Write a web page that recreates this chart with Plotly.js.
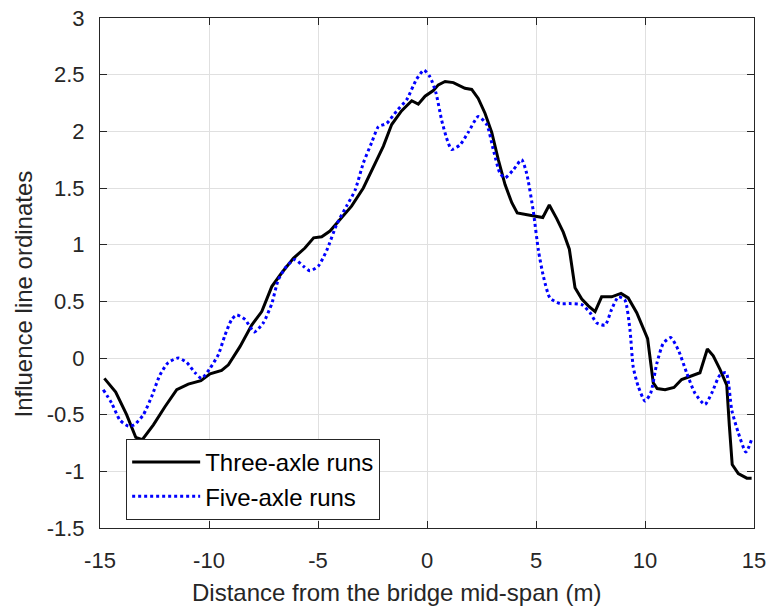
<!DOCTYPE html>
<html>
<head>
<meta charset="utf-8">
<script src="https://cdn.plot.ly/plotly-3.0.1.min.js"></script>
<style>html,body{margin:0;padding:0;background:#fff;}#chart{width:767px;height:606px;}</style>
</head>
<body>
<div id="chart"></div>
<script>
// Three-axle runs (black solid)
var threeX = [-14.80, -14.28, -13.78, -13.36, -13.06, -12.55, -12.02, -11.48, -10.95, -10.37, -9.95, -9.42, -9.11, -8.58, -8.04, -7.58, -7.12, -6.67, -6.13, -5.60, -5.20, -4.83, -4.45, -3.99, -3.46, -2.92, -2.46, -2.00, -1.62, -1.17, -0.70, -0.40, -0.09, 0.29, 0.52, 0.83, 1.21, 1.74, 2.05, 2.35, 2.66, 2.97, 3.27, 3.58, 3.89, 4.14, 4.72, 5.31, 5.61, 5.95, 6.25, 6.53, 6.79, 7.10, 7.40, 7.71, 8.01, 8.47, 8.90, 9.23, 9.62, 9.89, 10.12, 10.38, 10.56, 10.92, 11.33, 11.68, 12.14, 12.52, 12.86, 13.13, 13.44, 13.75, 13.87, 14.00, 14.28, 14.67, 14.89];
var threeY = [-0.18, -0.30, -0.50, -0.70, -0.72, -0.59, -0.43, -0.28, -0.23, -0.20, -0.14, -0.11, -0.06, 0.10, 0.29, 0.41, 0.63, 0.75, 0.88, 0.97, 1.06, 1.07, 1.12, 1.22, 1.34, 1.50, 1.68, 1.87, 2.06, 2.18, 2.27, 2.24, 2.31, 2.36, 2.41, 2.44, 2.43, 2.38, 2.37, 2.29, 2.16, 1.99, 1.75, 1.53, 1.37, 1.28, 1.26, 1.24, 1.35, 1.23, 1.11, 0.96, 0.62, 0.52, 0.46, 0.41, 0.54, 0.54, 0.57, 0.53, 0.40, 0.28, 0.17, -0.22, -0.27, -0.28, -0.26, -0.19, -0.16, -0.13, 0.08, 0.02, -0.10, -0.24, -0.60, -0.94, -1.02, -1.06, -1.06];

// Five-axle runs (blue dotted)
var fiveX = [-14.85, -14.46, -14.08, -13.70, -13.43, -13.01, -12.63, -12.25, -11.87, -11.41, -11.02, -10.64, -10.34, -9.95, -9.57, -9.27, -8.96, -8.73, -8.35, -7.92, -7.51, -7.12, -6.82, -6.44, -6.06, -5.67, -5.37, -4.99, -4.60, -4.14, -3.69, -3.30, -2.92, -2.54, -2.23, -1.85, -1.39, -0.93, -0.48, -0.14, 0.14, 0.41, 0.67, 0.90, 1.13, 1.51, 1.89, 2.35, 2.74, 3.04, 3.35, 3.58, 3.96, 4.34, 4.57, 4.88, 5.11, 5.34, 5.64, 6.10, 6.56, 7.10, 7.48, 7.78, 8.17, 8.47, 8.78, 9.08, 9.31, 9.46, 9.69, 10.00, 10.26, 10.54, 10.84, 11.18, 11.53, 11.91, 12.29, 12.75, 13.06, 13.44, 13.72, 13.98, 14.28, 14.63, 14.89];
var fiveY = [-0.28, -0.40, -0.55, -0.60, -0.59, -0.50, -0.34, -0.15, -0.04, 0.00, -0.04, -0.13, -0.18, -0.09, 0.03, 0.20, 0.34, 0.38, 0.34, 0.23, 0.31, 0.48, 0.69, 0.81, 0.87, 0.81, 0.77, 0.81, 0.95, 1.18, 1.34, 1.48, 1.72, 1.90, 2.04, 2.07, 2.18, 2.28, 2.46, 2.54, 2.48, 2.34, 2.10, 1.94, 1.84, 1.88, 1.99, 2.13, 2.06, 1.84, 1.63, 1.59, 1.66, 1.75, 1.63, 1.29, 0.95, 0.72, 0.53, 0.48, 0.48, 0.47, 0.40, 0.31, 0.29, 0.43, 0.54, 0.51, 0.25, -0.08, -0.25, -0.38, -0.31, -0.05, 0.13, 0.18, 0.07, -0.13, -0.31, -0.41, -0.31, -0.15, -0.13, -0.46, -0.66, -0.83, -0.72];

var xTickVals = [-15, -10, -5, 0, 5, 10, 15];
var xTickText = ['-15', '-10', '-5', '0', '5', '10', '15'];
var yTickVals = [-1.5, -1, -0.5, 0, 0.5, 1, 1.5, 2, 2.5, 3];
var yTickText = ['-1.5', '-1', '-0.5', '0', '0.5', '1', '1.5', '2', '2.5', '3'];

var seriesNames = ['Three-axle runs', 'Five-axle runs'];
var xTitle = 'Distance from the bridge mid-span (m)';
var yTitle = 'Influence line ordinates';

var FONT = '"Liberation Sans", Arial, Helvetica, sans-serif';
var TXT = '#262626';

var traces = [
  {x: threeX, y: threeY, type: 'scatter', mode: 'lines', name: seriesNames[0],
   line: {color: '#000000', width: 3}},
  {x: fiveX, y: fiveY, type: 'scatter', mode: 'lines', name: seriesNames[1],
   line: {color: '#0000ff', width: 3, dash: 'dot', shape: 'spline', smoothing: 0.6}}
];

var axisCommon = {
  showline: true, linecolor: TXT, linewidth: 1, mirror: 'ticks',
  ticks: 'inside', ticklen: 7, tickwidth: 1, tickcolor: TXT,
  showgrid: true, gridcolor: '#e0e0e0', gridwidth: 1,
  zeroline: false, tickmode: 'array',
  tickfont: {family: FONT, size: 22, color: TXT}
};

var layout = {
  width: 767, height: 606,
  margin: {l: 100, r: 13, t: 18, b: 78},
  paper_bgcolor: '#ffffff', plot_bgcolor: '#ffffff',
  showlegend: true,
  xaxis: Object.assign({}, axisCommon, {range: [-15, 15], tickvals: xTickVals, ticktext: xTickText, ticklabelstandoff: 13}),
  yaxis: Object.assign({}, axisCommon, {range: [-1.5, 3], tickvals: yTickVals, ticktext: yTickText, ticklabelstandoff: 10}),
  legend: {
    x: 0.04, y: 0.016, xanchor: 'left', yanchor: 'bottom',
    bgcolor: '#ffffff', bordercolor: TXT, borderwidth: 1,
    font: {family: FONT, size: 24, color: '#000000'},
    itemwidth: 68, tracegroupgap: 0,
    entrywidth: 292, entrywidthmode: 'pixels'
  },
  annotations: [
    {text: xTitle, xref: 'x', x: -1.38, yref: 'paper', y: 0, yshift: -49,
     xanchor: 'center', yanchor: 'top', showarrow: false,
     font: {family: FONT, size: 24, color: TXT}},
    {text: yTitle, xref: 'paper', x: 0, xshift: -76, yref: 'y', y: 0.56,
     xanchor: 'center', yanchor: 'middle', showarrow: false, textangle: -90,
     font: {family: FONT, size: 24, color: TXT}}
  ]
};

Plotly.newPlot('chart', traces, layout, {displayModeBar: false, staticPlot: true});
</script>
</body>
</html>
